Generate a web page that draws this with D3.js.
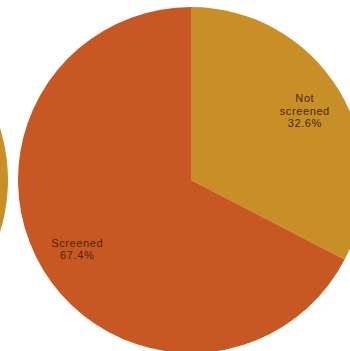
<!DOCTYPE html>
<html>
<head>
<meta charset="utf-8">
<script src="https://cdn.jsdelivr.net/npm/d3@7"></script>
<style>
  html, body { margin: 0; padding: 0; background: #ffffff; }
  svg { display: block; }
</style>
</head>
<body>
<svg id="chart" width="350" height="351"></svg>
<script>
// Screening status, share of respondents (%)
const categories = ["Not screened", "Screened"];
const mainValues = [32.6, 67.4];
// Neighbouring pie, only its right edge falls inside the frame
const sideValues = [41.0, 59.0];

const colors = d3.scaleOrdinal()
  .domain(categories)
  .range(["#c98f27", "#c85823"]);

const svg = d3.select("#chart");
const radius = 173;

const pie = d3.pie().sort(null).value(d => d.value);
const arc = d3.arc().innerRadius(0).outerRadius(radius);
const labelArc = d3.arc().innerRadius(radius * 0.77).outerRadius(radius * 0.77);

function drawPie(values, cx, cy, withLabels) {
  const data = categories.map((c, i) => ({ category: c, value: values[i] }));
  const g = svg.append("g").attr("transform", `translate(${cx},${cy})`);
  const arcs = pie(data);
  g.selectAll("path")
    .data(arcs)
    .join("path")
    .attr("d", arc)
    .attr("fill", d => colors(d.data.category));

  if (!withLabels) return;
  const labels = g.selectAll("text")
    .data(arcs)
    .join("text")
    .attr("transform", d => `translate(${labelArc.centroid(d)})`)
    .attr("text-anchor", "middle")
    .attr("font-family", "Liberation Sans, Arial, sans-serif")
    .attr("font-size", 11)
    .attr("letter-spacing", 0.6)
    .attr("fill", "#45260f");

  labels.each(function (d) {
    const words = d.data.category.split(" ");
    const lines = words.length > 1 ? [...words, d.data.value.toFixed(1) + "%"]
                                   : [d.data.category, d.data.value.toFixed(1) + "%"];
    const lh = 12.7;
    const y0 = -((lines.length - 1) * lh) / 2;
    d3.select(this).selectAll("tspan")
      .data(lines)
      .join("tspan")
      .attr("x", 0)
      .attr("y", (l, i) => y0 + i * lh)
      .attr("dy", "0.35em")
      .text(l => l);
  });
}

drawPie(sideValues, -165, 180, false);
drawPie(mainValues, 191, 180, true);
</script>
</body>
</html>
